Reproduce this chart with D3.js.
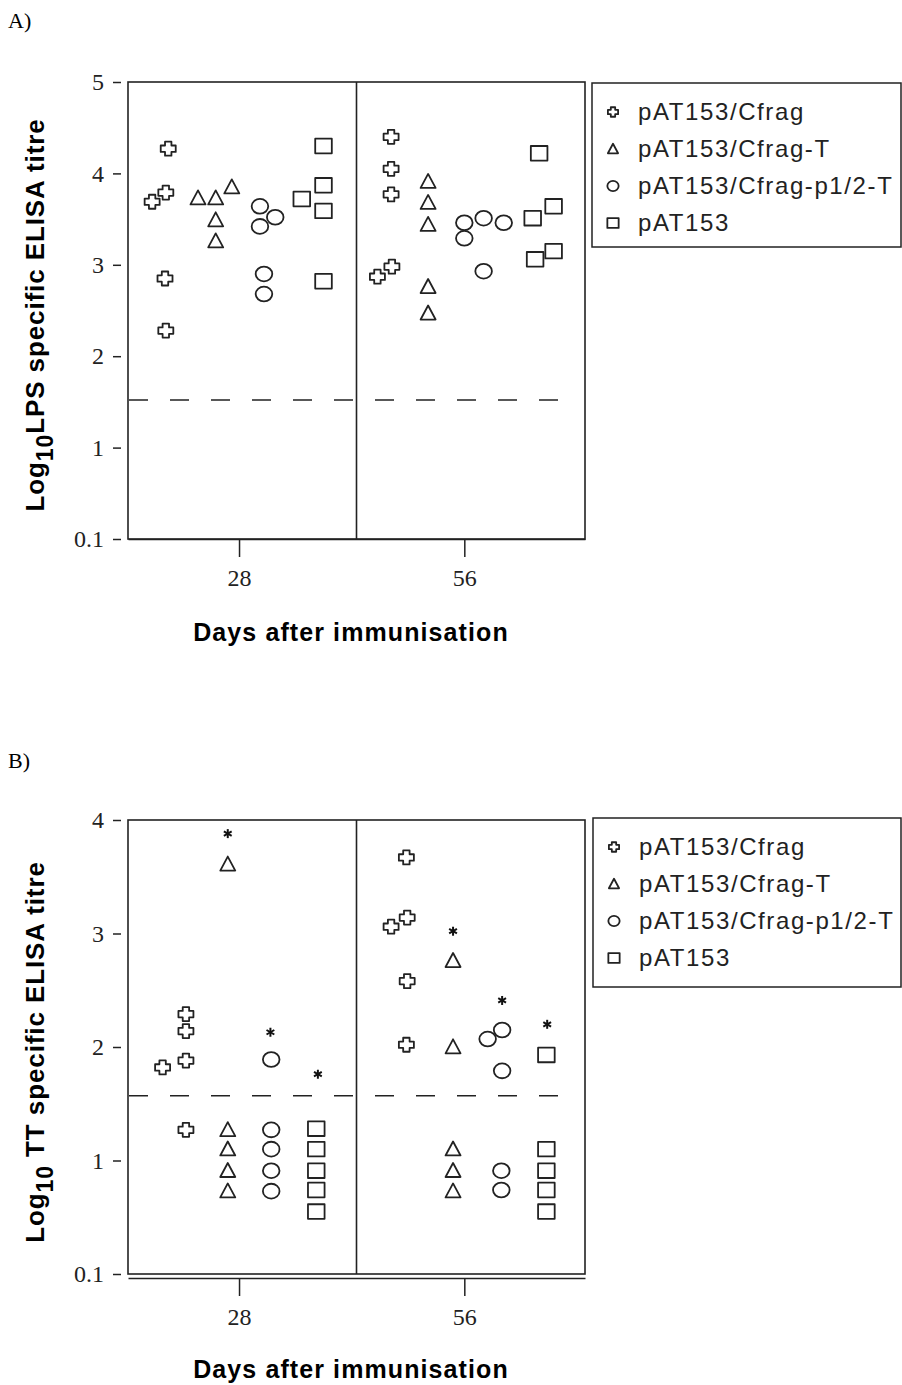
<!DOCTYPE html>
<html>
<head>
<meta charset="utf-8">
<script src="https://cdn.jsdelivr.net/npm/d3@7/dist/d3.min.js"></script>
<style>
  body { margin: 0; background: #fff; }
  svg { display: block; }
</style>
</head>
<body>
<div id="chart"></div>
<script>
// Groups and their marker shapes
const groups = ['pAT153/Cfrag', 'pAT153/Cfrag-T', 'pAT153/Cfrag-p1/2-T', 'pAT153'];
const shapes = ['cross', 'triangle', 'circle', 'square'];

// x axis: days after immunisation
const dayTicks = [28, 56];
const dayDomain = [14.2, 71];
const daySplit = 42.6;

// y tick labels (bottom tick is printed as 0.1)
const lpsTicks = [0, 1, 2, 3, 4, 5];
const lpsTickLabels = ['0.1', '1', '2', '3', '4', '5'];
const ttTicks = [0, 1, 2, 3, 4];
const ttTickLabels = ['0.1', '1', '2', '3', '4'];

// detection cut-off lines
const lpsCutoff = 1.52;
const ttCutoff = 1.57;

// Panel A: LPS titres, [plotted day position, log10 titre]
const lpsCfrag = [[19.2, 4.27], [18.9, 3.79], [17.2, 3.69], [18.8, 2.85], [18.9, 2.28],
                  [46.9, 4.40], [46.9, 4.05], [46.9, 3.77], [45.2, 2.87], [47.0, 2.98]];
const lpsCfragT = [[22.9, 3.73], [25.1, 3.73], [27.1, 3.85], [25.1, 3.49], [25.1, 3.26],
                   [51.5, 3.91], [51.5, 3.68], [51.5, 3.44], [51.5, 2.76], [51.5, 2.47]];
const lpsCfragP = [[30.6, 3.64], [32.5, 3.52], [30.6, 3.42], [31.1, 2.90], [31.1, 2.68],
                   [56.0, 3.46], [56.0, 3.29], [58.4, 3.51], [60.9, 3.46], [58.4, 2.93]];
const lpsVector = [[38.5, 4.30], [35.8, 3.72], [38.5, 3.87], [38.5, 3.59], [38.5, 2.82],
                   [65.3, 4.22], [67.1, 3.64], [64.5, 3.51], [67.1, 3.15], [64.8, 3.06]];

// Panel B: TT titres
const ttCfrag = [[21.4, 2.29], [21.4, 2.14], [21.4, 1.88], [18.5, 1.82], [21.4, 1.27],
                 [48.8, 3.67], [48.9, 3.14], [46.9, 3.06], [48.9, 2.58], [48.8, 2.02]];
const ttCfragT = [[26.6, 3.61], [26.6, 1.27], [26.6, 1.10], [26.6, 0.91], [26.6, 0.73],
                  [54.6, 2.76], [54.6, 2.00], [54.6, 1.10], [54.6, 0.91], [54.6, 0.73]];
const ttCfragP = [[32.0, 1.89], [32.0, 1.27], [32.0, 1.10], [32.0, 0.91], [32.0, 0.73],
                  [60.7, 2.15], [58.9, 2.07], [60.7, 1.79], [60.6, 0.91], [60.6, 0.74]];
const ttVector = [[37.6, 1.28], [37.6, 1.10], [37.6, 0.91], [37.6, 0.74], [37.6, 0.55],
                  [66.2, 1.93], [66.2, 1.10], [66.2, 0.91], [66.2, 0.74], [66.2, 0.55]];
// significance asterisks
const ttStars = [[26.6, 3.88], [31.9, 2.13], [37.8, 1.76], [54.6, 3.02], [60.7, 2.41], [66.3, 2.20]];

const INK = '#222';
const width = 902, height = 1385;

const svg = d3.select('#chart').append('svg')
    .attr('width', width)
    .attr('height', height)
    .style('font-family', '"Liberation Sans", Arial, sans-serif');

function markerPath(shape, s) {
    // s = scale factor, base marker about 16 x 14 px
    const p = d3.path();
    if (shape === 'cross') {
        const w = 7.5 * s, h = 7 * s, a = 3.2 * s;
        p.moveTo(-a, -h); p.lineTo(a, -h); p.lineTo(a, -a); p.lineTo(w, -a);
        p.lineTo(w, a); p.lineTo(a, a); p.lineTo(a, h); p.lineTo(-a, h);
        p.lineTo(-a, a); p.lineTo(-w, a); p.lineTo(-w, -a); p.lineTo(-a, -a);
        p.closePath();
    } else if (shape === 'triangle') {
        const w = 7.5 * s, h = 14 * s;
        p.moveTo(0, -h * 0.55); p.lineTo(w, h * 0.45); p.lineTo(-w, h * 0.45); p.closePath();
    } else if (shape === 'square') {
        const w = 8.3 * s, h = 7.3 * s;
        p.rect(-w, -h, 2 * w, 2 * h);
    }
    return p.toString();
}

function drawMarker(g, shape, x, y, s) {
    if (shape === 'circle') {
        g.append('ellipse')
            .attr('cx', x).attr('cy', y)
            .attr('rx', 8.3 * s).attr('ry', 7.4 * s)
            .attr('fill', 'none').attr('stroke', INK).attr('stroke-width', 1.8);
    } else {
        g.append('path')
            .attr('d', markerPath(shape, s))
            .attr('transform', `translate(${x},${y})`)
            .attr('fill', 'none').attr('stroke', INK).attr('stroke-width', 1.8)
            .attr('stroke-linejoin', 'round');
    }
}

function drawStar(g, x, y) {
    const r = 4.5;
    const star = g.append('g').attr('transform', `translate(${x},${y})`);
    [90, 30, -30].forEach(a => {
        const rad = a * Math.PI / 180;
        star.append('line')
            .attr('x1', -r * Math.cos(rad)).attr('y1', -r * Math.sin(rad))
            .attr('x2', r * Math.cos(rad)).attr('y2', r * Math.sin(rad))
            .attr('stroke', '#111').attr('stroke-width', 2);
    });
}

function drawPanel(cfg) {
    const g = svg.append('g');
    const box = { left: 128, right: 585, top: cfg.top, bottom: cfg.bottom };

    const x = d3.scaleLinear().domain(dayDomain).range([box.left, box.right]);
    const y = d3.scaleLinear().domain(cfg.yDomain).range([box.bottom, box.top]);

    // panel letter
    g.append('text')
        .attr('x', 8).attr('y', cfg.letterY)
        .style('font-family', '"Liberation Serif", "Times New Roman", serif')
        .style('font-size', '22px')
        .text(cfg.letter);

    // y ticks: short detached dashes with serif labels
    const yAxis = d3.axisLeft(y)
        .tickValues(cfg.ticks)
        .tickFormat((d, i) => cfg.tickLabels[i])
        .tickSize(8)
        .tickPadding(9);
    const ya = g.append('g')
        .attr('transform', `translate(${box.left - 7},0)`)
        .call(yAxis);
    ya.select('.domain').remove();
    ya.selectAll('line').attr('stroke', INK).attr('stroke-width', 1.5);
    ya.selectAll('text')
        .style('font-family', '"Liberation Serif", "Times New Roman", serif')
        .style('font-size', '24px')
        .attr('fill', '#222');

    // x axis with long ticks
    const xAxis = d3.axisBottom(x)
        .tickValues(dayTicks)
        .tickSize(18)
        .tickPadding(12)
        .tickSizeOuter(0);
    const xa = g.append('g')
        .attr('transform', `translate(0,${box.bottom + cfg.axisGap})`)
        .call(xAxis);
    xa.select('.domain').attr('stroke', INK).attr('stroke-width', 1.5);
    xa.selectAll('line').attr('stroke', INK).attr('stroke-width', 1.5);
    xa.selectAll('text')
        .style('font-family', '"Liberation Serif", "Times New Roman", serif')
        .style('font-size', '24px')
        .attr('fill', '#222');

    // frame and the split between the two days
    g.append('rect')
        .attr('x', box.left).attr('y', box.top)
        .attr('width', box.right - box.left).attr('height', box.bottom - box.top)
        .attr('fill', 'none').attr('stroke', INK).attr('stroke-width', 1.6);
    g.append('line')
        .attr('x1', x(daySplit)).attr('x2', x(daySplit))
        .attr('y1', box.top).attr('y2', box.bottom)
        .attr('stroke', INK).attr('stroke-width', 1.6);

    // cut-off
    g.append('line')
        .attr('x1', x(dayDomain[0]) + 1).attr('x2', x(68.2))
        .attr('y1', y(cfg.cutoff)).attr('y2', y(cfg.cutoff))
        .attr('stroke', INK).attr('stroke-width', 1.5)
        .attr('stroke-dasharray', '19,22');

    // points
    cfg.series.forEach((pts, i) => {
        pts.forEach(d => drawMarker(g, shapes[i], x(d[0]), y(d[1]), 1));
    });
    (cfg.stars || []).forEach(d => drawStar(g, x(d[0]), y(d[1])));

    // x title
    g.append('text')
        .attr('x', 351).attr('y', cfg.xTitleY)
        .attr('text-anchor', 'middle')
        .style('font-size', '25px').style('font-weight', 'bold')
        .style('letter-spacing', '1.1px')
        .text('Days after immunisation');

    // y title
    const yt = g.append('text')
        .attr('transform', `translate(44,${cfg.yTitleY}) rotate(-90)`)
        .attr('text-anchor', 'middle')
        .style('font-size', '26px').style('font-weight', 'bold')
        .style('letter-spacing', '0.9px');
    yt.append('tspan').text('Log');
    yt.append('tspan').attr('dy', 9).style('font-size', '23px').text('10');
    yt.append('tspan').attr('dy', -9).text(cfg.yTitle);

    // legend
    const lg = g.append('g');
    lg.append('rect')
        .attr('x', cfg.legend.x).attr('y', cfg.legend.y)
        .attr('width', 901 - cfg.legend.x).attr('height', cfg.legend.h)
        .attr('fill', '#fff').attr('stroke', INK).attr('stroke-width', 1.5);
    groups.forEach((name, i) => {
        const ry = cfg.legend.y + 29 + i * cfg.legend.step;
        drawMarker(lg, shapes[i], cfg.legend.x + 21, ry, 0.68);
        lg.append('text')
            .attr('x', cfg.legend.x + 46).attr('y', ry)
            .attr('dy', '0.35em')
            .style('font-size', '24px')
            .style('letter-spacing', '1.6px')
            .attr('fill', '#222')
            .text(name);
    });
}

drawPanel({
    letter: 'A)', letterY: 28,
    top: 82, bottom: 539, axisGap: 0,
    yDomain: [0, 5], ticks: lpsTicks, tickLabels: lpsTickLabels,
    cutoff: lpsCutoff,
    series: [lpsCfrag, lpsCfragT, lpsCfragP, lpsVector],
    xTitleY: 641, yTitle: 'LPS specific ELISA  titre', yTitleY: 315,
    legend: { x: 592, y: 83, h: 164, step: 37 }
});

drawPanel({
    letter: 'B)', letterY: 768,
    top: 820, bottom: 1274, axisGap: 4,
    yDomain: [0, 4], ticks: ttTicks, tickLabels: ttTickLabels,
    cutoff: ttCutoff,
    series: [ttCfrag, ttCfragT, ttCfragP, ttVector],
    stars: ttStars,
    xTitleY: 1378, yTitle: ' TT specific ELISA  titre', yTitleY: 1052,
    legend: { x: 593, y: 818, h: 169, step: 37 }
});
</script>
</body>
</html>
